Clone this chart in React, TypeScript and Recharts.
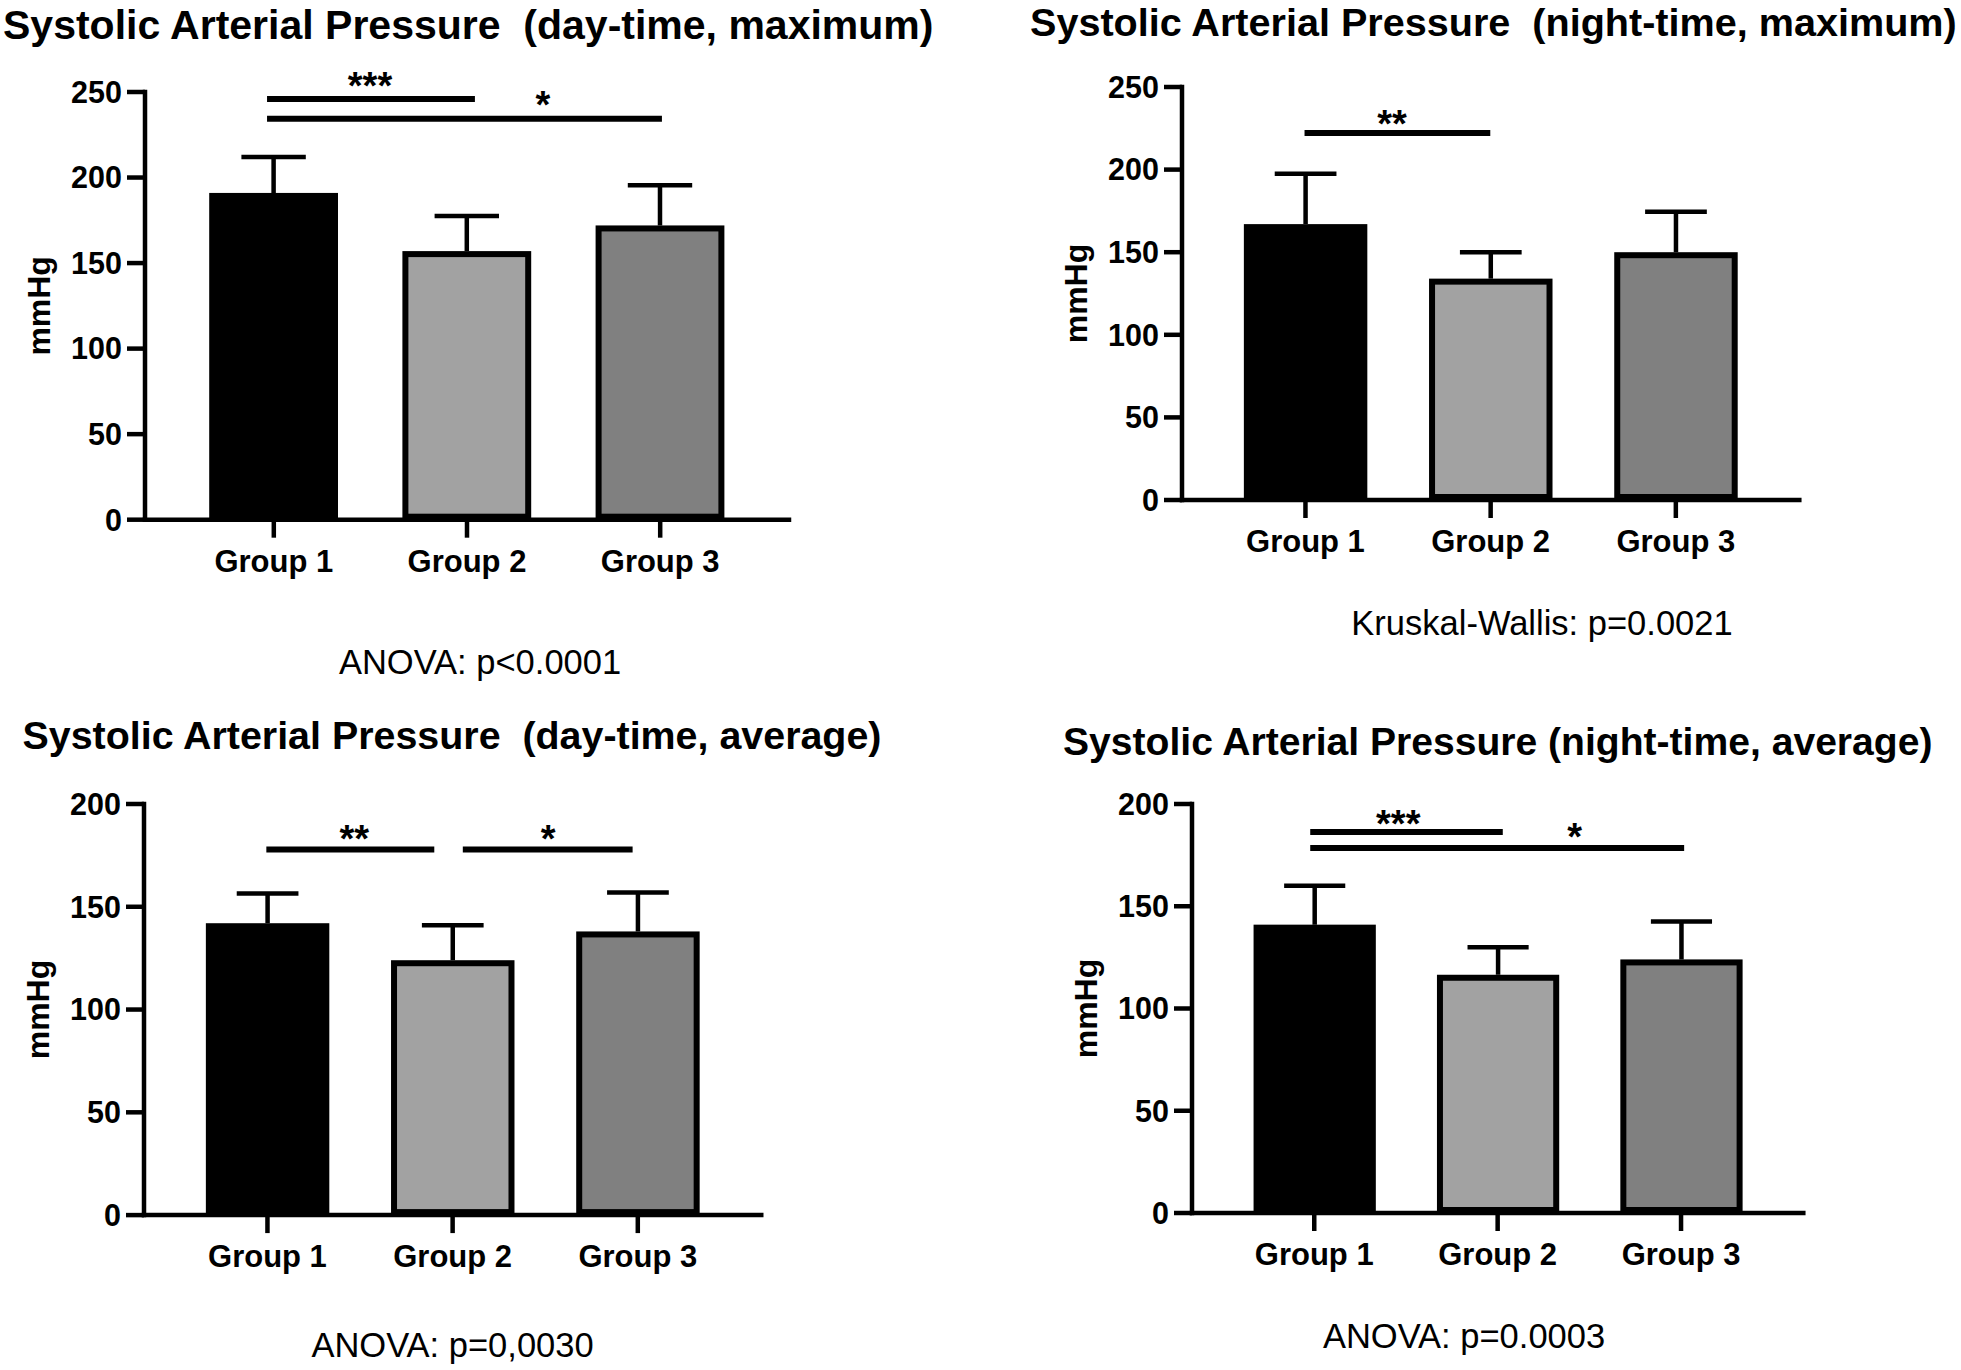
import React from "react"
import { BarChart, Bar, XAxis, YAxis, ReferenceLine, ReferenceDot } from "recharts"

const FONT = "'Liberation Sans', Arial, sans-serif"

// categories, placed at 1, 2, 3 on a numeric axis (domain 1/3 .. 11/3)
const groups = ["Group 1", "Group 2", "Group 3"]
const groupPos = [1, 2, 3]

// mean and SD (mmHg)
const dayMaxMean = [191, 157, 172]
const dayMaxSd = [21, 20.5, 23.5]
const nightMaxMean = [167, 134, 150]
const nightMaxSd = [30.5, 16, 24.5]
const dayAvgMean = [142, 124, 138]
const dayAvgSd = [14.5, 17, 19]
const nightAvgMean = [141, 116.5, 124]
const nightAvgSd = [19, 13.5, 18.5]

const ticksMax = [0, 50, 100, 150, 200, 250]
const ticksAvg = [0, 50, 100, 150, 200]

// significance bars: from/to group position, height, stars and where the stars sit
const dayMaxSig = [
  { x1: 0.965, x2: 2.041, y: 245.9, stars: "***", sx: 1.498, sy: 258.6 },
  { x1: 0.965, x2: 3.009, y: 234.4, stars: "*", sx: 2.393, sy: 247.8 },
]
const nightMaxSig = [
  { x1: 0.995, x2: 1.998, y: 222.2, stars: "**", sx: 1.468, sy: 232.7 },
]
const dayAvgSig = [
  { x1: 0.994, x2: 1.901, y: 177.9, stars: "**", sx: 1.469, sy: 187.3 },
  { x1: 2.055, x2: 2.972, y: 177.9, stars: "*", sx: 2.516, sy: 187.3 },
]
const nightAvgSig = [
  { x1: 0.978, x2: 2.028, y: 186.3, stars: "***", sx: 1.458, sy: 194.4 },
  { x1: 0.978, x2: 3.017, y: 178.5, stars: "*", sx: 2.42, sy: 188 },
]

const titles = [
  "Systolic Arterial Pressure  (day-time, maximum)",
  "Systolic Arterial Pressure  (night-time, maximum)",
  "Systolic Arterial Pressure  (day-time, average)",
  "Systolic Arterial Pressure (night-time, average)",
]
const footers = [
  "ANOVA: p<0.0001",
  "Kruskal-Wallis: p=0.0021",
  "ANOVA: p=0,0030",
  "ANOVA: p=0.0003",
]

// page geometry of each panel (pixels)
const layouts = [
  { axisX: 145, top: 92.3, bottom: 520, right: 789 },
  { axisX: 1181.7, top: 87.3, bottom: 500.3, right: 1799 },
  { axisX: 143.75, top: 803.6, bottom: 1214.7, right: 761 },
  { axisX: 1191.7, top: 804.3, bottom: 1213.3, right: 1803 },
]
const titlePos = [
  { x: 3, y: 39, size: 41 },
  { x: 1030, y: 36, size: 39.6 },
  { x: 22.5, y: 749, size: 39.4 },
  { x: 1063, y: 755, size: 39.1 },
]
const footerPos = [
  { x: 480, y: 674 },
  { x: 1542, y: 635 },
  { x: 452.5, y: 1357 },
  { x: 1464, y: 1348 },
]

const barFills = ["#000000", "#a2a2a2", "#808080"]
const LINE = 4.5
const BORDER = 6
const STAR_SIZE = 38

const MeanBar = (props: any) => {
  const { x, y, width, height, index } = props
  const fill = barFills[index] || "#000"
  if (index === 0) {
    return <rect x={x} y={y} width={width} height={height} fill={fill} />
  }
  const h = BORDER / 2
  return (
    <rect
      x={x + h}
      y={y + h}
      width={Math.max(0, width - BORDER)}
      height={Math.max(0, height - BORDER)}
      fill={fill}
      stroke="#000"
      strokeWidth={BORDER}
    />
  )
}

// the SD segment stacked on top of the mean, drawn as an upward whisker with a cap
const Whisker = (props: any) => {
  const { x, y, width, height } = props
  const cx = x + width / 2
  return (
    <g>
      <line x1={cx} x2={cx} y1={y} y2={y + height} stroke="#000" strokeWidth={LINE} />
      <line x1={cx - width / 4} x2={cx + width / 4} y1={y} y2={y} stroke="#000" strokeWidth={LINE} />
    </g>
  )
}

const mmHgLabel = (props: any) => {
  const vb = props.viewBox || {}
  const x = (vb.x ?? 0) + (vb.width ?? 150) - 103 + 8
  const y = (vb.y ?? 0) + (vb.height ?? 0) / 2
  return (
    <text
      x={x}
      y={y}
      transform={`rotate(-90 ${x} ${y})`}
      textAnchor="middle"
      fontFamily={FONT}
      fontWeight="bold"
      fontSize={32}
      fill="#000"
    >
      mmHg
    </text>
  )
}

interface PanelProps {
  mean: number[]
  sd: number[]
  yMax: number
  yTicks: number[]
  sig: { x1: number; x2: number; y: number; stars: string; sx: number; sy: number }[]
  layout: { axisX: number; top: number; bottom: number; right: number }
}

const YW = 150
const MT = 100
const MR = 20
const XH = 80

const Panel = ({ mean, sd, yMax, yTicks, sig, layout }: PanelProps) => {
  const data = groupPos.map((x, i) => ({ x, name: groups[i], mean: mean[i], sd: sd[i] }))
  const plotW = layout.right - layout.axisX
  const plotH = layout.bottom - layout.top
  const barSize = (plotW / (10 / 3)) * (2 / 3)

  return (
    <div style={{ position: "absolute", left: layout.axisX - YW, top: layout.top - MT }}>
      <BarChart
        width={YW + plotW + MR}
        height={MT + plotH + XH}
        data={data}
        margin={{ top: MT, right: MR, bottom: 0, left: 0 }}
        barSize={barSize}
      >
        <XAxis
          type="number"
          dataKey="x"
          domain={[1 / 3, 11 / 3]}
          allowDataOverflow
          ticks={groupPos}
          interval={0}
          tickFormatter={(v: number) => groups[v - 1]}
          height={XH}
          tickSize={18}
          tickMargin={12}
          axisLine={{ stroke: "#000", strokeWidth: LINE, strokeLinecap: "square" }}
          tickLine={{ stroke: "#000", strokeWidth: LINE }}
          tick={{ fontSize: 31, fontWeight: "bold", fill: "#000", fontFamily: FONT }}
        />
        <YAxis
          type="number"
          domain={[0, yMax]}
          allowDataOverflow
          ticks={yTicks}
          interval={0}
          width={YW}
          tickSize={18}
          tickMargin={5}
          axisLine={{ stroke: "#000", strokeWidth: LINE, strokeLinecap: "square" }}
          tickLine={{ stroke: "#000", strokeWidth: LINE }}
          tick={{ fontSize: 30.5, fontWeight: "bold", fill: "#000", fontFamily: FONT }}
          label={mmHgLabel}
        />
        <Bar dataKey="mean" stackId="s" shape={MeanBar} isAnimationActive={false} />
        <Bar dataKey="sd" stackId="s" shape={Whisker} isAnimationActive={false} />
        {sig.map((s, i) => (
          <ReferenceLine
            key={`l${i}`}
            segment={[{ x: s.x1, y: s.y }, { x: s.x2, y: s.y }]}
            stroke="#000"
            strokeWidth={6}
            ifOverflow="visible"
          />
        ))}
        {sig.map((s, i) => (
          <ReferenceDot
            key={`d${i}`}
            x={s.sx}
            y={s.sy}
            r={0}
            ifOverflow="visible"
            shape={(p: any) => (
              <text
                x={p.cx}
                y={p.cy + STAR_SIZE * 0.575}
                textAnchor="middle"
                fontFamily={FONT}
                fontWeight="bold"
                fontSize={STAR_SIZE}
                fill="#000"
              >
                {s.stars}
              </text>
            )}
          />
        ))}
      </BarChart>
    </div>
  )
}

export default function App() {
  return (
    <div
      style={{
        position: "absolute",
        left: 0,
        top: 0,
        width: 1961,
        height: 1370,
        background: "#fff",
        overflow: "hidden",
      }}
    >
      <Panel mean={dayMaxMean} sd={dayMaxSd} yMax={250} yTicks={ticksMax} sig={dayMaxSig} layout={layouts[0]} />
      <Panel mean={nightMaxMean} sd={nightMaxSd} yMax={250} yTicks={ticksMax} sig={nightMaxSig} layout={layouts[1]} />
      <Panel mean={dayAvgMean} sd={dayAvgSd} yMax={200} yTicks={ticksAvg} sig={dayAvgSig} layout={layouts[2]} />
      <Panel mean={nightAvgMean} sd={nightAvgSd} yMax={200} yTicks={ticksAvg} sig={nightAvgSig} layout={layouts[3]} />

      <svg
        width={1961}
        height={1370}
        style={{ position: "absolute", left: 0, top: 0, pointerEvents: "none" }}
      >
        {titles.map((t, i) => (
          <text
            key={`t${i}`}
            x={titlePos[i].x}
            y={titlePos[i].y}
            fontFamily={FONT}
            fontWeight="bold"
            fontSize={titlePos[i].size}
            fill="#000"
            style={{ whiteSpace: "pre" }}
          >
            {t}
          </text>
        ))}
        {footers.map((f, i) => (
          <text
            key={`f${i}`}
            x={footerPos[i].x}
            y={footerPos[i].y}
            textAnchor="middle"
            fontFamily={FONT}
            fontSize={34.5}
            fill="#000"
          >
            {f}
          </text>
        ))}
      </svg>
    </div>
  )
}
